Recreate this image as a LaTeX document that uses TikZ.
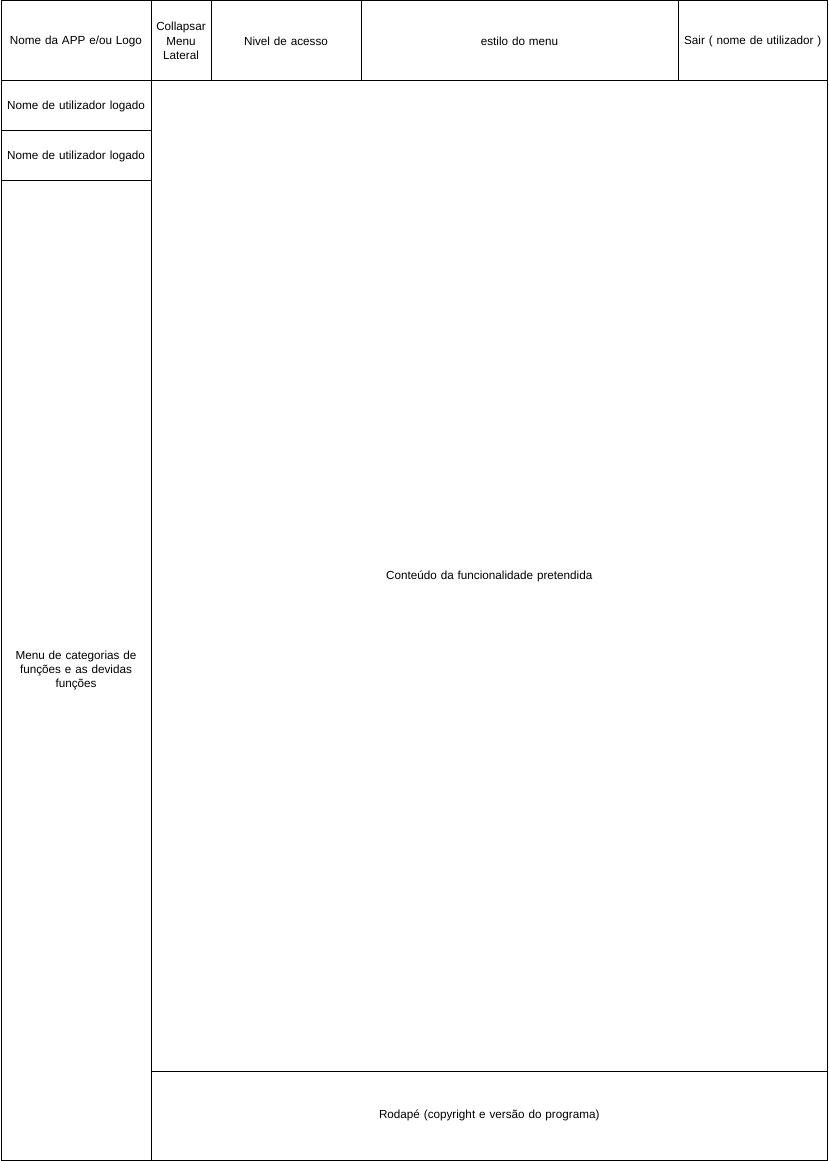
\documentclass[tikz,border=0pt]{standalone}
\usepackage{fontspec}
\setmainfont{Liberation Sans}
\usepackage{tikz}
\hyphenpenalty=10000
\newcommand{\drawCell}[6]{%
  \node[cell, minimum width=#3, minimum height=#4, text width=#5] (#1) at (#2) {#6};%
}

\begin{document}
\begin{tikzpicture}[x=1pt, y=-1pt, line width=1pt,
    cell/.style={draw, anchor=north west, inner sep=0pt, align=center,
      font=\fontsize{11.7}{14.2}\selectfont}]
  \useasboundingbox (0,0) rectangle (828,1161);
  % Header
  \drawCell{app}{0.5,0.5}{150pt}{80pt}{140pt}{Nome da APP e/ou Logo}
  \drawCell{collapse}{150.5,0.5}{60pt}{80pt}{54pt}{Collapsar Menu Lateral}
  \drawCell{level}{210.5,0.5}{150pt}{80pt}{140pt}{Nivel de acesso}
  \drawCell{menuStyle}{360.5,0.5}{317pt}{80pt}{300pt}{estilo do menu}
  \drawCell{logout}{677.5,0.5}{149.5pt}{80pt}{148pt}{Sair ( nome de utilizador )}
  % Side bar
  \drawCell{userA}{0.5,80.5}{150pt}{50pt}{148pt}{Nome de utilizador logado}
  \drawCell{userB}{0.5,130.5}{150pt}{50pt}{148pt}{Nome de utilizador logado}
  \drawCell{sideMenu}{0.5,180.5}{150pt}{979.5pt}{140pt}{Menu de categorias de\\ funções e as devidas\\ funções}
  % Content and footer
  \drawCell{content}{150.5,80.5}{676.5pt}{990pt}{600pt}{Conteúdo da funcionalidade pretendida}
  \drawCell{footer}{150.5,1070.5}{676.5pt}{89.5pt}{600pt}{Rodapé (copyright e versão do programa)}
\end{tikzpicture}
\end{document}
